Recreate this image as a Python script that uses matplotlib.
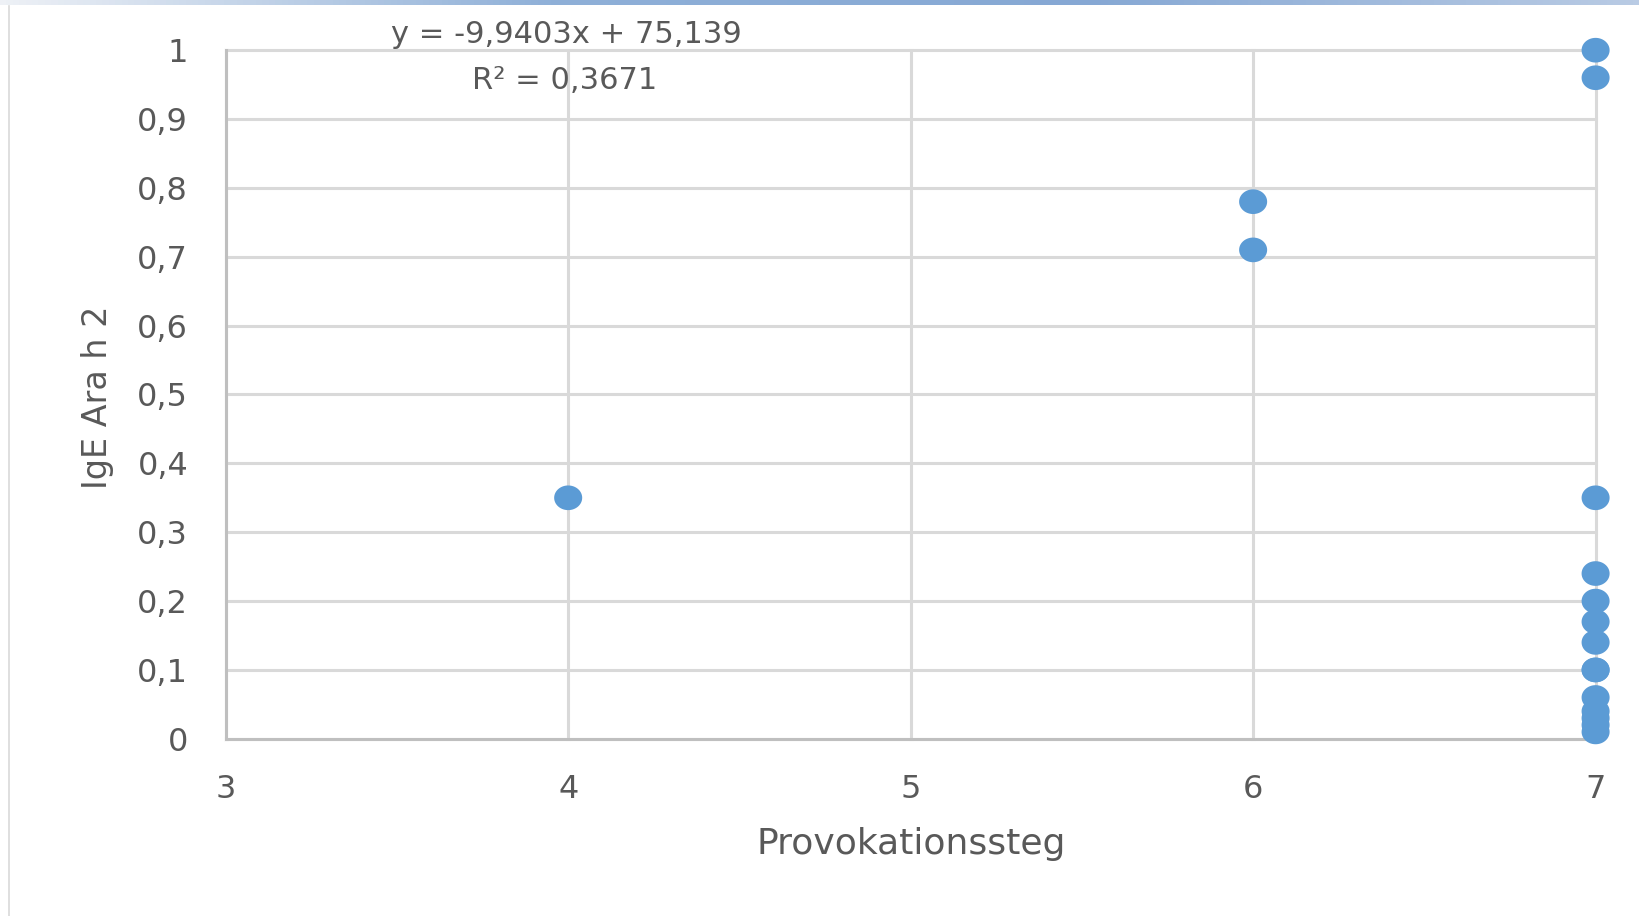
import matplotlib
matplotlib.use("Agg")
import matplotlib.pyplot as plt
import numpy as np
from matplotlib.path import Path
from matplotlib.colors import LinearSegmentedColormap

# Data
provokationssteg = [4, 6, 6, 7, 7, 7, 7, 7, 7, 7, 7, 7, 7, 7, 7, 7, 7]
ige_ara_h2 = [0.35, 0.78, 0.71, 1.00, 0.96, 0.35, 0.24, 0.20, 0.17, 0.14,
              0.10, 0.10, 0.06, 0.04, 0.03, 0.02, 0.01]
x_ticks = [3, 4, 5, 6, 7]
y_ticks = [0, 0.1, 0.2, 0.3, 0.4, 0.5, 0.6, 0.7, 0.8, 0.9, 1.0]
y_tick_labels = ["0", "0,1", "0,2", "0,3", "0,4", "0,5", "0,6", "0,7", "0,8", "0,9", "1"]
equation_text = "y = -9,9403x + 75,139"
r2_text = "R² = 0,3671"
x_title = "Provokationssteg"
y_title = "IgE Ara h 2"

W, H = 1639, 916
fig = plt.figure(figsize=(W / 100, H / 100), dpi=100)
fig.patch.set_facecolor("white")

# top gradient bar and left border
grad = np.linspace(0, 1, 256).reshape(1, -1)
cmap = LinearSegmentedColormap.from_list("bar", ["#eef1f6", "#8fb0d8", "#86a8d4", "#b9cbe4"])
bar_ax = fig.add_axes([0, 1 - 5 / H, 1, 5 / H])
bar_ax.imshow(grad, aspect="auto", cmap=cmap)
bar_ax.axis("off")
fig.add_artist(plt.Line2D([8.5 / W, 8.5 / W], [0, 1 - 6 / H], transform=fig.transFigure,
                          color="#d9d9d9", lw=1.2))

left, right = 225.7 / W, 1595.6 / W
bottom, top = 1 - 738.8 / H, 1 - 50.2 / H
ax = fig.add_axes([left, bottom, right - left, top - bottom])

tick_col = "#595959"
grid_col = "#d9d9d9"

ax.set_xlim(3, 7)
ax.set_ylim(0, 1)
ax.set_xticks(x_ticks)
ax.set_yticks(y_ticks)
ax.set_yticklabels(y_tick_labels)
ax.grid(True, color=grid_col, lw=2.2)
ax.set_axisbelow(True)
for line in ax.get_xgridlines() + ax.get_ygridlines():
    line.set_clip_on(False)
for s in ["top", "right"]:
    ax.spines[s].set_visible(False)
for s in ["left", "bottom"]:
    ax.spines[s].set_color("#bfbfbf")
    ax.spines[s].set_linewidth(2.2)
ax.tick_params(length=0, labelsize=23, labelcolor=tick_col)
ax.tick_params(axis="x", pad=25)
ax.tick_params(axis="y", pad=27)

# oval marker
t = np.linspace(0, 2 * np.pi, 60)
verts = np.column_stack([np.cos(t) * 1.0, np.sin(t) * 0.88])
oval = Path(verts, closed=True)
ax.scatter(provokationssteg, ige_ara_h2, marker=oval, s=28 ** 2 * 0.52,
           color="#5b9bd5", edgecolors="none", clip_on=False, zorder=3)

fig.text(566 / W, 1 - 34.5 / H, equation_text, ha="center", va="center",
         fontsize=22, color=tick_col)
fig.text(565 / W, 1 - 80.5 / H, r2_text, ha="center", va="center",
         fontsize=22, color=tick_col)
fig.text(911 / W, 1 - 844 / H, x_title, ha="center", va="center",
         fontsize=26, color=tick_col)
fig.text(97 / W, 1 - 397 / H, y_title, ha="center", va="center", rotation=90,
         fontsize=24, color=tick_col)

fig.savefig("out.png", dpi=100, facecolor="white")
